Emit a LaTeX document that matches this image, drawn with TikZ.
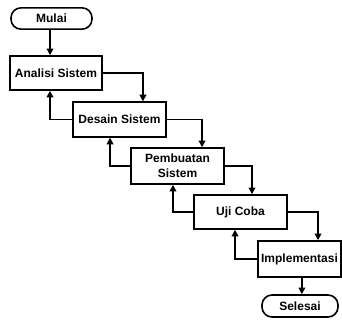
\documentclass[tikz,border=0pt]{standalone}
\usepackage{fontspec}
\setmainfont{Liberation Sans}
\usetikzlibrary{arrows.meta,calc}
\begin{document}
\begin{tikzpicture}[x=0.75pt,y=-0.75pt,
  every node/.style={font=\fontsize{9pt}{11pt}\selectfont\bfseries, inner sep=0pt},
  box/.style={draw, line width=1.2pt, minimum height=26pt, align=center},
  term/.style={draw, line width=1.2pt, rounded corners=7.5pt, minimum height=16pt},
  conn/.style={line width=1.2pt, -{Triangle[length=5pt,width=5pt]}}]
\useasboundingbox (0,0) rectangle (342,324);
\node[term, minimum width=60.75pt] (mulai) at (51.5,18.5) {Mulai};
\node[box, minimum width=69pt, minimum height=25.5pt] (analisi) at (56,73) {Analisi Sistem};
\node[box, minimum width=69.75pt] (desain) at (119.5,119.5) {Desain Sistem};
\node[box, minimum width=69.75pt, minimum height=27pt] (pembuatan) at (177.5,166) {Pembuatan\\Sistem};
\node[box, minimum width=69.75pt, minimum height=25.5pt] (uji) at (240.5,212) {Uji Coba};
\node[box, minimum width=62.25pt, minimum height=27pt] (impl) at (299.5,259) {Implementasi};
\node[term, minimum width=57pt, minimum height=16.5pt] (selesai) at (300,306) {Selesai};

\draw[conn] ([xshift=-1.1pt]mulai.south) -- ([xshift=-1.1pt]mulai.south |- analisi.north);
\draw[conn] (analisi.east) -| ([xshift=17.6pt]desain.north);
\draw[conn] (desain.east) -| ([xshift=18.4pt]pembuatan.north);
\draw[conn] (pembuatan.east) -| ([xshift=8.6pt]uji.north);
\draw[conn] (uji.east) -| ([xshift=13.9pt]impl.north);
\draw[conn] ([xshift=1.8pt]impl.south) -- ([xshift=1.8pt]impl.south |- selesai.north);

\draw[conn] (desain.west) -| ([xshift=-4.5pt]analisi.south);
\draw[conn] (pembuatan.west) -| ([xshift=-7.1pt]desain.south);
\draw[conn] (uji.west) -| ([xshift=-3.4pt]pembuatan.south);
\draw[conn] (impl.west) -| ([xshift=-4.1pt]uji.south);
\end{tikzpicture}
\end{document}
